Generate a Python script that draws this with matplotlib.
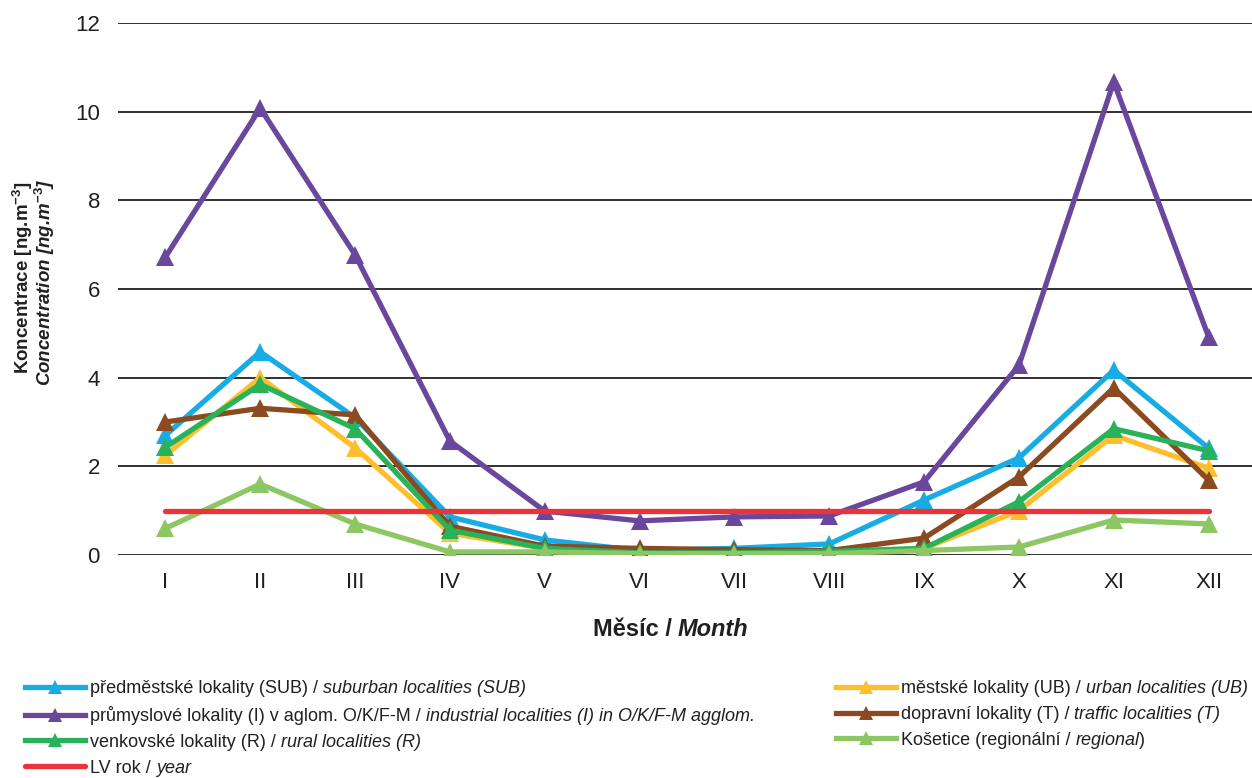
import matplotlib
matplotlib.use('Agg')
import matplotlib.pyplot as plt
import numpy as np

plt.rcParams['font.family'] = ['Liberation Sans', 'DejaVu Sans']
plt.rcParams['mathtext.fontset'] = 'custom'
plt.rcParams['mathtext.rm'] = 'Liberation Sans'
plt.rcParams['mathtext.it'] = 'Liberation Sans:italic'
plt.rcParams['mathtext.bf'] = 'Liberation Sans:bold'

months = ['I', 'II', 'III', 'IV', 'V', 'VI', 'VII', 'VIII', 'IX', 'X', 'XI', 'XII']

sub = [2.7, 4.58, 3.1, 0.86, 0.34, 0.1, 0.15, 0.25, 1.24, 2.19, 4.17, 2.41]
ub = [2.25, 4.0, 2.42, 0.49, 0.15, 0.05, 0.05, 0.05, 0.15, 1.0, 2.7, 1.96]
ind = [6.72, 10.08, 6.77, 2.57, 0.99, 0.77, 0.86, 0.88, 1.65, 4.28, 10.67, 4.92]
traffic = [3.0, 3.31, 3.16, 0.65, 0.2, 0.15, 0.12, 0.1, 0.38, 1.76, 3.77, 1.69]
rural = [2.43, 3.85, 2.85, 0.56, 0.15, 0.05, 0.05, 0.08, 0.15, 1.2, 2.85, 2.35]
kosetice = [0.6, 1.6, 0.7, 0.07, 0.07, 0.03, 0.03, 0.03, 0.1, 0.18, 0.79, 0.7]
lv = [1.0] * 12

# (values, colour, upright label, italic label, trailing upright)
series = {
    'sub': (sub, '#17ade4', 'předměstské lokality (SUB) /', 'suburban localities (SUB)', ''),
    'ub': (ub, '#fdbf2d', 'městské lokality (UB) /', 'urban localities (UB)', ''),
    'ind': (ind, '#6a479d', 'průmyslové lokality (I) v aglom. O/K/F-M /',
            'industrial localities (I) in O/K/F-M agglom.', ''),
    'traffic': (traffic, '#8b4a20', 'dopravní lokality (T) /', 'traffic localities (T)', ''),
    'rural': (rural, '#28b35b', 'venkovské lokality (R) /', 'rural localities (R)', ''),
    'kos': (kosetice, '#8dc763', 'Košetice (regionální /', 'regional', ')'),
}

W, H = 1252, 778
fig = plt.figure(figsize=(W / 100, H / 100), dpi=100)
ax = fig.add_axes([118 / W, 1 - 555 / H, (1256 - 118) / W, (555 - 23) / H])

x = np.arange(len(months))
lines = {}
for key in ['sub', 'ub', 'ind', 'traffic', 'rural', 'kos']:
    vals, col, lab, _, _ = series[key]
    ln, = ax.plot(x, vals, color=col, lw=3.8, marker='^', markersize=13,
                  markeredgewidth=0, label=lab, solid_joinstyle='miter')
    lines[key] = ln
lv_line, = ax.plot(x, lv, color='#ee3338', lw=3.8, solid_capstyle='round', label='LV rok /')

ax.set_xlim(-0.5, 11.5)
ax.set_ylim(0, 12)
ax.set_yticks(np.arange(0, 13, 2))
ax.set_xticks(x)
ax.set_xticklabels(months)
ax.tick_params(axis='both', length=0, labelsize=16, colors='#231f20')
ax.tick_params(axis='x', pad=12)
ax.tick_params(axis='y', pad=13)
ax.grid(axis='y', color='#231f20', lw=1.3)
ax.set_axisbelow(True)
for s in ax.spines.values():
    s.set_visible(False)

# axis titles
fig.text(23 / W, 1 - 278 / H, 'Koncentrace [ng.m$^{\\mathbf{-3}}$]', rotation=90,
         ha='center', va='center', fontsize=13.5, fontweight='bold', color='#231f20')
fig.text(45 / W, 1 - 282 / H, 'Concentration [ng.m$^{\\mathbf{-3}}$]', rotation=90,
         ha='center', va='center', fontsize=13.5, fontweight='bold', style='italic',
         color='#231f20')
xl = fig.text(593 / W, 1 - 630 / H, 'Měsíc /', ha='left', va='center', fontsize=17,
              fontweight='bold', color='#231f20')
ax.annotate('Month', xy=(1, 0), xycoords=xl, xytext=(4, 0), textcoords='offset points',
            ha='left', va='bottom', fontsize=17, fontweight='bold', style='italic',
            color='#231f20', annotation_clip=False)

# legends
left_keys = ['sub', 'ind', 'rural']
right_keys = ['ub', 'traffic', 'kos']
fs = 13
leg_kw = dict(frameon=False, fontsize=fs, handlelength=3.3, handletextpad=0.3,
              labelspacing=0.49, borderpad=0, borderaxespad=0, loc='upper left')
leg1 = fig.legend([lines[k] for k in left_keys] + [lv_line],
                  [series[k][2] for k in left_keys] + ['LV rok /'],
                  bbox_to_anchor=(25 / W, 1 - 680 / H), **leg_kw)
leg2 = fig.legend([lines[k] for k in right_keys],
                  [series[k][2] for k in right_keys],
                  bbox_to_anchor=(836 / W, 1 - 680 / H), **leg_kw)
for lg in (leg1, leg2):
    for h in lg.legend_handles:
        h.set_markersize(10)

italic = [series[k][3] for k in left_keys] + ['year'] + [series[k][3] for k in right_keys]
trail = [series[k][4] for k in left_keys] + [''] + [series[k][4] for k in right_keys]
texts = list(leg1.get_texts()) + list(leg2.get_texts())
for t, it, tr in zip(texts, italic, trail):
    t.set_color('#231f20')
    a = ax.annotate(it, xy=(1, 0), xycoords=t, xytext=(3.5, 0), textcoords='offset points',
                    ha='left', va='bottom', fontsize=fs, style='italic', color='#231f20',
                    annotation_clip=False)
    if tr:
        ax.annotate(tr, xy=(1, 0), xycoords=a, xytext=(0, 0), textcoords='offset points',
                    ha='left', va='bottom', fontsize=fs, color='#231f20',
                    annotation_clip=False)

fig.canvas.draw()
fig.savefig('out.png', dpi=100)
